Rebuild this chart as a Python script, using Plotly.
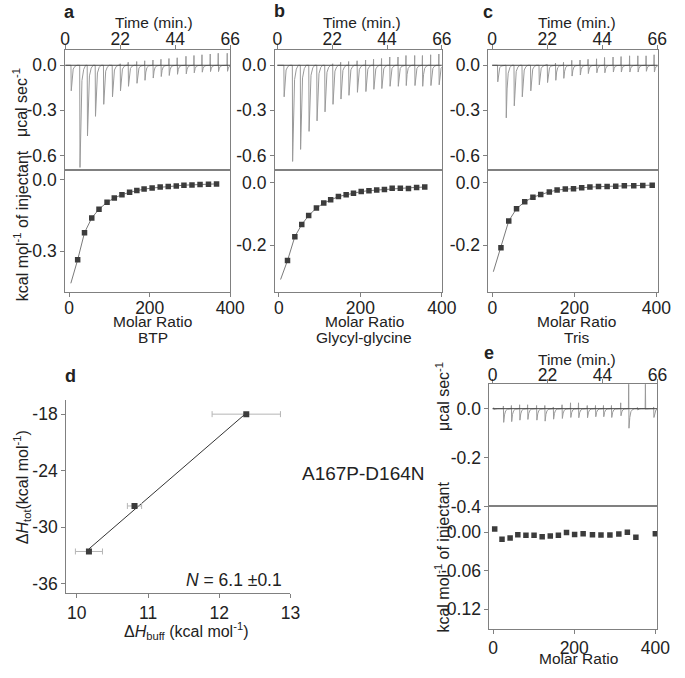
import plotly.graph_objects as go
import numpy as np

# ---------------- data ----------------
# raw thermograms: injection time (min), positive overshoot, negative peak (µcal/s)
a_t = [2.3, 5.8, 8.8, 12.0, 15.3, 18.8, 22.0, 25.2, 28.6, 31.8, 35.1, 38.3, 41.5, 44.8, 48.3, 51.5, 54.7, 58.0, 61.2, 64.8]
a_up = [0, 0, 0, 0, 0, 0, 0.01, 0.02, 0.025, 0.03, 0.035, 0.04, 0.045, 0.05, 0.06, 0.065, 0.07, 0.075, 0.08, 0.08]
a_dn = [-0.17, -0.68, -0.47, -0.34, -0.26, -0.21, -0.17, -0.14, -0.12, -0.10, -0.085, -0.075, -0.068, -0.06, -0.057, -0.05, -0.046, -0.042, -0.042, -0.04]

b_t = [2.6, 6.0, 9.2, 12.6, 15.8, 19.0, 22.2, 25.4, 28.6, 32.0, 35.4, 38.6, 41.8, 45.1, 48.4, 51.6, 55.1, 58.2, 61.5, 64.8]
b_up = [0, 0, 0, 0, 0, 0, 0.01, 0.02, 0.025, 0.03, 0.035, 0.04, 0.045, 0.055, 0.055, 0.065, 0.065, 0.065, 0.07, 0.075]
b_dn = [-0.21, -0.64, -0.56, -0.44, -0.37, -0.31, -0.26, -0.225, -0.2, -0.18, -0.175, -0.16, -0.155, -0.14, -0.14, -0.135, -0.135, -0.14, -0.135, -0.13]

c_t = [2.1, 5.5, 8.7, 11.9, 15.3, 18.7, 22.0, 25.3, 28.5, 31.8, 35.1, 38.3, 41.7, 44.9, 48.3, 51.5, 54.9, 58.2, 61.5, 64.7]
c_up = [0, 0, 0, 0, 0, 0, 0.005, 0.015, 0.02, 0.033, 0.035, 0.04, 0.043, 0.052, 0.055, 0.058, 0.063, 0.063, 0.063, 0.07]
c_dn = [-0.11, -0.35, -0.27, -0.21, -0.17, -0.13, -0.115, -0.10, -0.087, -0.072, -0.065, -0.055, -0.05, -0.05, -0.045, -0.045, -0.045, -0.045, -0.04, -0.045]

e_t = [0.4, 4.3, 7.5, 10.8, 14.0, 17.6, 20.9, 24.3, 27.8, 31.2, 34.4, 37.9, 41.2, 44.4, 47.6, 51.3, 54.5, 58.0, 61.2, 64.5]
e_up = [0.004, 0.011, 0.013, 0.016, 0.016, 0.013, 0.013, 0.007, 0.016, 0.024, 0.024, 0.013, 0.013, 0.013, 0.013, 0.024, 0.13, 0.005, 0.107, 0.007]
e_dn = [-0.004, -0.056, -0.053, -0.047, -0.044, -0.047, -0.051, -0.043, -0.04, -0.036, -0.037, -0.037, -0.033, -0.033, -0.036, -0.029, -0.08, -0.005, -0.003, -0.036]

# integrated heats (kcal/mol of injectant) vs molar ratio
a_x = [21, 38, 56, 74, 94, 112, 131, 150, 168, 186, 206, 226, 246, 266, 285, 305, 325, 346, 366]
a_y = [-0.336, -0.222, -0.16, -0.123, -0.094, -0.076, -0.062, -0.052, -0.044, -0.0385, -0.034, -0.030, -0.0275, -0.025, -0.022, -0.021, -0.019, -0.018, -0.0165]
a_fit_x = [4, 21, 38, 56, 74, 94, 112, 131, 150, 168, 186, 206, 226, 246, 266, 285, 305, 325, 346, 366]
a_fit_y = [-0.435, -0.336, -0.222, -0.16, -0.123, -0.094, -0.076, -0.062, -0.052, -0.044, -0.0385, -0.034, -0.030, -0.0275, -0.025, -0.022, -0.021, -0.019, -0.018, -0.0165]

b_x = [21, 39, 56, 73, 92, 110, 127, 146, 165, 183, 202, 221, 240, 259, 278, 298, 318, 338, 358]
b_y = [-0.25, -0.173, -0.134, -0.105, -0.081, -0.065, -0.054, -0.044, -0.0385, -0.033, -0.028, -0.025, -0.023, -0.021, -0.017, -0.017, -0.018, -0.0145, -0.0135]
b_fit_x = [4, 21, 39, 56, 73, 92, 110, 127, 146, 165, 183, 202, 221, 240, 259, 278, 298, 318, 338, 358]
b_fit_y = [-0.311, -0.25, -0.173, -0.134, -0.105, -0.081, -0.065, -0.054, -0.044, -0.0385, -0.033, -0.028, -0.025, -0.023, -0.021, -0.018, -0.017, -0.016, -0.0145, -0.0135]

c_x = [21, 40, 59, 79, 99, 118, 139, 158, 178, 198, 218, 238, 259, 280, 301, 322, 345, 367, 390]
c_y = [-0.209, -0.1225, -0.083, -0.061, -0.046, -0.037, -0.029, -0.023, -0.020, -0.019, -0.0157, -0.0136, -0.0115, -0.0115, -0.0105, -0.0094, -0.0094, -0.0084, -0.0073]
c_fit_x = [2.4, 21, 40, 59, 79, 99, 118, 139, 158, 178, 198, 218, 238, 259, 280, 301, 322, 345, 367, 390]
c_fit_y = [-0.286, -0.209, -0.1225, -0.083, -0.061, -0.046, -0.037, -0.029, -0.023, -0.020, -0.018, -0.0157, -0.0136, -0.0115, -0.0112, -0.0105, -0.0094, -0.0092, -0.0084, -0.0073]

e_x = [4, 22, 42, 61, 81, 101, 121, 141, 161, 181, 201, 222, 245, 266, 288, 310, 331, 352, 400]
e_y = [0.005, -0.011, -0.009, -0.004, -0.005, -0.005, -0.007, -0.006, -0.005, -0.0005, -0.0035, -0.0025, -0.004, -0.0045, -0.0045, -0.003, 0.0, -0.008, -0.0025]

# panel d
d_hbuff = [12.38, 10.81, 10.17]
d_htot = [-18.0, -27.75, -32.58]
d_err = [0.48, 0.10, 0.19]

buffers = ["BTP", "Glycyl-glycine", "Tris"]

# ---------------- helpers ----------------
W, H = 685, 678
FONT = "Liberation Sans, Arial, Helvetica, sans-serif"
TXT = "#222222"
LINE = "#808080"


def fx(px):
    return px / W


def fy(py):
    return 1 - py / H


def thermo(t, up, dn):
    xs, ys = [0.0], [0.0]
    for ti, u, d in zip(t, up, dn):
        xs += [ti - 0.1, ti, ti + 0.12, ti + 0.45, ti + 0.9, ti + 1.6, ti + 2.4]
        ys += [0.0, u, d, 0.45 * d, 0.15 * d, 0.04 * d, 0.0]
    xs.append(66.0)
    ys.append(0.0)
    return xs, ys


fig = go.Figure()

TRACE_GRAY = "#9a9a9a"
MARK = "#3c3c3c"

panels = [
    (a_t, a_up, a_dn, a_x, a_y, a_fit_x, a_fit_y, "x", "y", "x2", "y2"),
    (b_t, b_up, b_dn, b_x, b_y, b_fit_x, b_fit_y, "x3", "y3", "x4", "y4"),
    (c_t, c_up, c_dn, c_x, c_y, c_fit_x, c_fit_y, "x5", "y5", "x6", "y6"),
]
for (t, up, dn, px_, py_, fx_, fy_, xt, yt, xb, yb) in panels:
    tx, ty = thermo(t, up, dn)
    fig.add_trace(go.Scatter(x=tx, y=ty, mode="lines", line=dict(color=TRACE_GRAY, width=1),
                             xaxis=xt, yaxis=yt, showlegend=False, hoverinfo="skip"))
    fig.add_trace(go.Scatter(x=[0, 66], y=[0, 0], mode="lines", line=dict(color="#444444", width=1),
                             xaxis=xt, yaxis=yt, showlegend=False, hoverinfo="skip"))
    fig.add_trace(go.Scatter(x=fx_, y=fy_, mode="lines", line=dict(color="#7a7a7a", width=1),
                             xaxis=xb, yaxis=yb, showlegend=False, hoverinfo="skip"))
    fig.add_trace(go.Scatter(x=px_, y=py_, mode="markers",
                             marker=dict(symbol="square", size=5.5, color=MARK),
                             xaxis=xb, yaxis=yb, showlegend=False))

# panel e
tx, ty = thermo(e_t, e_up, e_dn)
fig.add_trace(go.Scatter(x=tx, y=ty, mode="lines", line=dict(color=TRACE_GRAY, width=1),
                         xaxis="x8", yaxis="y8", showlegend=False, hoverinfo="skip"))
fig.add_trace(go.Scatter(x=[0, 66], y=[0, 0], mode="lines", line=dict(color="#444444", width=1),
                         xaxis="x8", yaxis="y8", showlegend=False, hoverinfo="skip"))
fig.add_trace(go.Scatter(x=e_x, y=e_y, mode="markers",
                         marker=dict(symbol="square", size=5.5, color=MARK),
                         xaxis="x9", yaxis="y9", showlegend=False))

# panel d
slope, icpt = np.polyfit(d_hbuff, d_htot, 1)
lx = np.array([min(d_hbuff), max(d_hbuff)])
fig.add_trace(go.Scatter(x=lx, y=slope * lx + icpt, mode="lines", line=dict(color="#333333", width=1),
                         xaxis="x7", yaxis="y7", showlegend=False, hoverinfo="skip"))
fig.add_trace(go.Scatter(x=d_hbuff, y=d_htot, mode="markers",
                         marker=dict(symbol="square", size=6, color=MARK),
                         error_x=dict(type="data", array=d_err, color="#b5b5b5", thickness=1, width=3),
                         xaxis="x7", yaxis="y7", showlegend=False))

# ---------------- axes ----------------
def axis(domain_px, rng, anchor, side, tickvals, ticktext=None, vertical=False, mirror=True, standoff=0):
    if vertical:
        dom = [fy(domain_px[1]), fy(domain_px[0])]
    else:
        dom = [fx(domain_px[0]), fx(domain_px[1])]
    if ticktext is None:
        ticktext = [str(v) for v in tickvals]
    d = dict(domain=dom, range=rng, anchor=anchor, side=side, tickvals=tickvals, ticktext=ticktext,
             showline=True, linecolor=LINE, linewidth=1, mirror=mirror,
             ticks="outside", ticklen=4, tickcolor=LINE, tickwidth=1,
             showgrid=False, zeroline=False, fixedrange=True, ticklabelstandoff=standoff,
             tickfont=dict(family=FONT, size=17.5, color=TXT))
    return d


TOP = (51, 173)
BOT = (173, 296)
time_ticks = [0, 22, 44, 66]
mr_ticks = [0, 200, 400]
ST_TOP = -7
ST_BOT = -4

lay = {}
# a
lay["xaxis"] = axis((62, 232), [0, 66], "y", "top", time_ticks, standoff=ST_TOP)
lay["yaxis"] = axis(TOP, [-0.7, 0.1], "x", "left", [0, -0.3, -0.6], ["0.0", "-0.3", "-0.6"], vertical=True)
lay["xaxis2"] = axis((62, 232), [-10, 400], "y2", "bottom", mr_ticks, standoff=ST_BOT)
lay["yaxis2"] = axis(BOT, [-0.47, 0.04], "x2", "left", [0, -0.3], ["0.0", "-0.3"], vertical=True)
# b
lay["xaxis3"] = axis((278, 450), [-1, 66], "y3", "top", time_ticks, standoff=ST_TOP)
lay["yaxis3"] = axis(TOP, [-0.7, 0.1], "x3", "left", [0, -0.3, -0.6], ["0.0", "-0.3", "-0.6"], vertical=True)
lay["xaxis4"] = axis((278, 450), [-10, 400], "y4", "bottom", mr_ticks, standoff=ST_BOT)
lay["yaxis4"] = axis(BOT, [-0.35, 0.04], "x4", "left", [0, -0.2], ["0.0", "-0.2"], vertical=True)
# c
lay["xaxis5"] = axis((498, 673), [-1.5, 66.4], "y5", "top", time_ticks, standoff=ST_TOP)
lay["yaxis5"] = axis(TOP, [-0.7, 0.1], "x5", "left", [0, -0.3, -0.6], ["0.0", "-0.3", "-0.6"], vertical=True)
lay["xaxis6"] = axis((498, 673), [-9.5, 405], "y6", "bottom", mr_ticks, standoff=ST_BOT)
lay["yaxis6"] = axis(BOT, [-0.35, 0.04], "x6", "left", [0, -0.2], ["0.0", "-0.2"], vertical=True)
# d
lay["xaxis7"] = axis((63, 294), [9.85, 13], "y7", "bottom", [10, 11, 12, 13], mirror=False, standoff=0)
lay["yaxis7"] = axis((406, 602), [-37, -16.5], "x7", "left", [-18, -24, -30, -36], vertical=True, mirror=False)
# e
lay["xaxis8"] = axis((499, 672), [-1.3, 66], "y8", "top", time_ticks, standoff=ST_TOP - 2)
lay["yaxis8"] = axis((390, 514), [-0.4, 0.1], "x8", "left", [0, -0.2, -0.4], ["0.0", "-0.2", "-0.4"], vertical=True)
lay["xaxis9"] = axis((499, 672), [-9, 405], "y9", "bottom", mr_ticks, standoff=-1)
lay["yaxis9"] = axis((514, 638), [-0.15, 0.04], "x9", "left", [0, -0.06, -0.12], ["0.00", "-0.06", "-0.12"], vertical=True)

fig.update_layout(**lay)


# ---------------- annotations ----------------
def ann(text, x, y, size=16, angle=0, bold=False):
    if bold:
        text = "<b>" + text + "</b>"
    fig.add_annotation(text=text, x=fx(x), y=fy(y), xref="paper", yref="paper",
                       xanchor="center", yanchor="middle", showarrow=False, textangle=angle,
                       font=dict(family=FONT, size=size, color=TXT))


# panel letters
for lt, x, y in [("a", 66, 12), ("b", 283, 11), ("c", 498, 12), ("d", 67, 382), ("e", 499, 358)]:
    ann(lt, x, y, size=18, bold=True)

# Time titles
for x, y in [(153, 23), (368, 23), (589, 23), (589, 365)]:
    ann("Time (min.)", x, y, size=15.5)

# Molar ratio titles and buffer names
for x, buf in zip([152, 370, 589], buffers):
    ann("Molar Ratio", x, 326, size=15.5)
    ann(buf, x, 343, size=15.5)
ann("Molar Ratio", 591, 668, size=15.5)

# y titles
ann("μcal sec<sup>-1</sup>", 16, 104, size=16, angle=-90)
ann("kcal mol<sup>-1</sup> of injectant", 16, 229, size=16, angle=-90)
ann("μcal sec<sup>-1</sup>", 451, 402, size=16, angle=-90)
ann("kcal mol<sup>-1</sup> of injectant", 450, 565, size=16, angle=-90)

# panel d titles
ann("Δ<i>H</i><sub>tot</sub>(kcal mol<sup>-1</sup>)", 17, 495, size=16, angle=-90)
ann("Δ<i>H</i><sub>buff</sub> (kcal mol<sup>-1</sup>)", 186, 640, size=16)
fig.add_annotation(text="<i>N</i> = 6.1 ±0.1", x=fx(287), y=fy(589), xref="paper", yref="paper",
                   xanchor="right", yanchor="middle", showarrow=False,
                   font=dict(family=FONT, size=17.5, color=TXT))

ann("A167P-D164N", 369, 481, size=19)

fig.update_layout(width=W, height=H, margin=dict(l=0, r=0, t=0, b=0),
                  paper_bgcolor="white", plot_bgcolor="white",
                  font=dict(family=FONT, color=TXT), showlegend=False)

fig.write_html("out.html", config={"displayModeBar": False},
               post_script="document.body.style.margin='0';document.body.style.padding='0';")
